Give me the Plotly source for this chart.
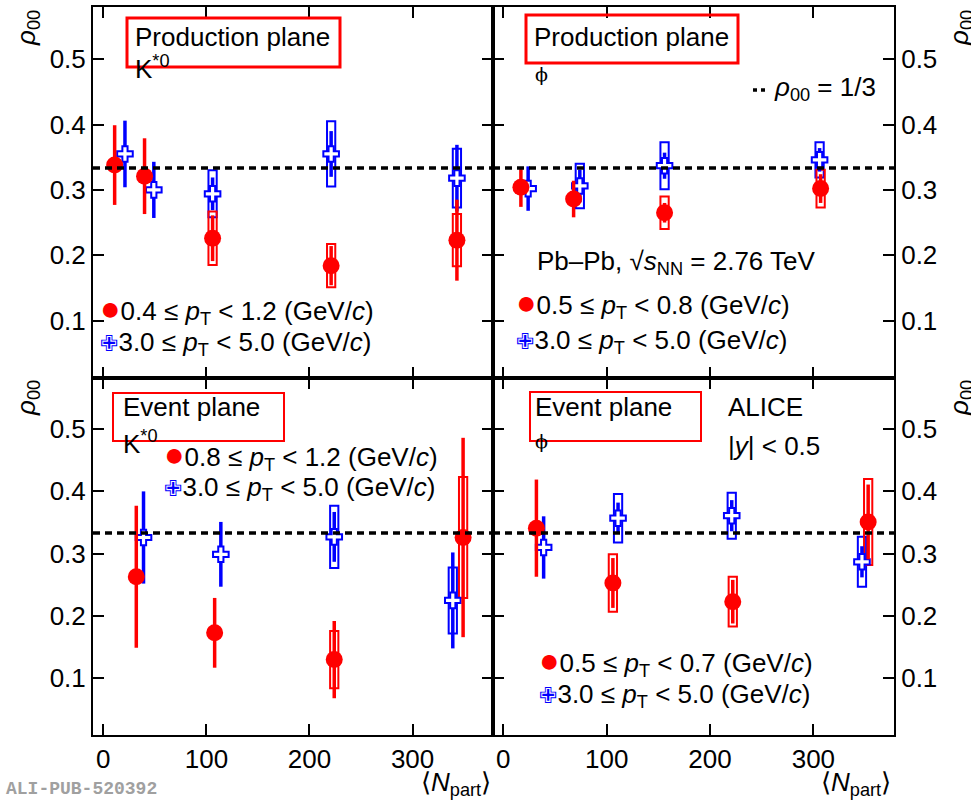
import plotly.graph_objects as go

W, H = 971, 800
RED = "#ff0000"
BLUE = "#0000ff"
FONT = "Liberation Sans, Arial, Helvetica, sans-serif"
FS = 26
REF_RHO = 1.0 / 3.0

# ---------------- data ----------------
# K*0, production plane
kpp_low_npart = [11, 40, 106, 221, 343]
kpp_low_rho = [0.338, 0.321, 0.226, 0.184, 0.223]
kpp_low_stat = [0.061, 0.058, 0.035, 0.030, 0.062]
kpp_low_syst = [None, None, 0.041, 0.033, 0.040]
kpp_high_npart = [21, 49, 106, 221, 343]
kpp_high_rho = [0.355, 0.300, 0.294, 0.355, 0.318]
kpp_high_stat = [0.051, 0.043, 0.025, 0.035, 0.051]
kpp_high_syst = [None, None, 0.036, 0.050, 0.045]

# phi, production plane
phipp_low_npart = [17, 68, 156, 307]
phipp_low_rho = [0.304, 0.286, 0.265, 0.302]
phipp_low_stat = [0.030, 0.028, 0.015, 0.022]
phipp_low_syst = [None, None, 0.025, 0.029]
phipp_high_npart = [24, 74, 156, 306]
phipp_high_rho = [0.302, 0.306, 0.337, 0.346]
phipp_high_stat = [0.034, 0.025, 0.020, 0.018]
phipp_high_syst = [None, 0.034, 0.036, 0.027]

# K*0, event plane
kep_low_npart = [32, 108, 224, 349]
kep_low_rho = [0.263, 0.173, 0.130, 0.326]
kep_low_stat = [0.114, 0.056, 0.062, 0.160]
kep_low_syst = [None, None, 0.046, 0.097]
kep_high_npart = [39, 114, 224, 339]
kep_high_rho = [0.326, 0.299, 0.327, 0.225]
kep_high_stat = [0.074, 0.052, 0.040, 0.077]
kep_high_syst = [None, None, 0.050, 0.053]

# phi, event plane
phiep_low_npart = [32, 106, 222, 353]
phiep_low_rho = [0.341, 0.253, 0.223, 0.351]
phiep_low_stat = [0.078, 0.040, 0.035, 0.060]
phiep_low_syst = [None, 0.046, 0.040, 0.069]
phiep_high_npart = [39, 111, 221, 347]
phiep_high_rho = [0.310, 0.357, 0.361, 0.287]
phiep_high_stat = [0.050, 0.025, 0.025, 0.025]
phiep_high_syst = [None, 0.039, 0.037, 0.040]

x_ticks = [0, 100, 200, 300]
x_tick_text = ["0", "100", "200", "300"]
y_ticks = [0.1, 0.2, 0.3, 0.4, 0.5]
y_tick_text = ["0.1", "0.2", "0.3", "0.4", "0.5"]

panels = [
    ("x", "y", (kpp_low_npart, kpp_low_rho, kpp_low_stat, kpp_low_syst),
     (kpp_high_npart, kpp_high_rho, kpp_high_stat, kpp_high_syst)),
    ("x2", "y2", (phipp_low_npart, phipp_low_rho, phipp_low_stat, phipp_low_syst),
     (phipp_high_npart, phipp_high_rho, phipp_high_stat, phipp_high_syst)),
    ("x3", "y3", (kep_low_npart, kep_low_rho, kep_low_stat, kep_low_syst),
     (kep_high_npart, kep_high_rho, kep_high_stat, kep_high_syst)),
    ("x4", "y4", (phiep_low_npart, phiep_low_rho, phiep_low_stat, phiep_low_syst),
     (phiep_high_npart, phiep_high_rho, phiep_high_stat, phiep_high_syst)),
]

fig = go.Figure()


def add_series(xa, ya, series, color, kind):
    n, rho, stat, syst = series
    bx = [a for a, s in zip(n, syst) if s is not None]
    bb = [r - s for r, s in zip(rho, syst) if s is not None]
    bh = [2 * s for s in syst if s is not None]
    if bx:
        fig.add_trace(go.Bar(
            x=bx, y=bh, base=bb, width=8, xaxis=xa, yaxis=ya,
            marker=dict(color="rgba(0,0,0,0)", line=dict(color=color, width=2)),
            showlegend=False, hoverinfo="skip"))
    if kind == "low":
        marker = dict(symbol="circle", size=17, color=color)
    else:
        marker = dict(symbol="cross", size=13, color="white",
                      line=dict(color=color, width=2))
    fig.add_trace(go.Scatter(
        x=n, y=rho, mode="markers", xaxis=xa, yaxis=ya, marker=marker,
        error_y=dict(type="data", array=stat, color=color, thickness=3.5, width=0),
        showlegend=False))


for xa, ya, low, high in panels:
    add_series(xa, ya, high, BLUE, "high")
    add_series(xa, ya, low, RED, "low")

# ---------------- layout ----------------
def px(x, y):
    return x / W, 1 - y / H

xl0, xl1, xr1 = 93 / W, 493 / W, 894 / W
yt1, ymid, yb0 = 1 - 7 / H, 1 - 378 / H, 1 - 735 / H

axis_common = dict(showline=True, linecolor="black", linewidth=2, mirror="allticks",
                   ticks="inside", ticklen=11, tickwidth=2, tickcolor="black",
                   showgrid=False, zeroline=False, automargin=False,
                   tickfont=dict(family=FONT, size=FS, color="black"))

xr = [-10, 378]
layout_axes = {}
for i, (dom_x, dom_y, side, xlab, yr) in enumerate([
        ([xl0, xl1], [ymid, yt1], "left", False, [0.012, 0.58]),
        ([xl1, xr1], [ymid, yt1], "right", False, [0.012, 0.58]),
        ([xl0, xl1], [yb0, ymid], "left", True, [0.009, 0.582]),
        ([xl1, xr1], [yb0, ymid], "right", True, [0.009, 0.582])]):
    k = "" if i == 0 else str(i + 1)
    layout_axes["xaxis" + k] = dict(axis_common, domain=dom_x, range=xr,
                                    anchor="y" + k, tickvals=x_ticks,
                                    ticktext=x_tick_text, showticklabels=xlab)
    layout_axes["yaxis" + k] = dict(axis_common, domain=dom_y, range=yr,
                                    anchor="x" + k, side=side, tickvals=y_ticks,
                                    ticktext=y_tick_text)

shapes = []
for i in range(4):
    k = "" if i == 0 else str(i + 1)
    shapes.append(dict(type="line", xref="x" + k + " domain", yref="y" + k,
                       x0=0, x1=1, y0=REF_RHO, y1=REF_RHO,
                       line=dict(color="black", width=3.5, dash="7px,5px")))


def box(x0, y0, x1, y1, w):
    a, b = px(x0, y0)
    c, d = px(x1, y1)
    shapes.append(dict(type="rect", xref="paper", yref="paper", x0=a, x1=c, y0=d, y1=b,
                       line=dict(color=RED, width=w)))


box(127, 18, 340, 67, 3)
box(526, 15, 738, 63, 3)
box(113, 393, 284, 441, 2)
box(530, 392, 701, 441, 2)

# legend dotted line sample
a, b = px(753, 90)
c, _ = px(769, 90)
shapes.append(dict(type="line", xref="paper", yref="paper", x0=a, x1=c, y0=b, y1=b,
                   line=dict(color="black", width=3.5, dash="4px,4px")))

annotations = []


def text(x, y, s, size=FS, xanchor="left", angle=0, color="black", family=FONT):
    a, b = px(x, y)
    annotations.append(dict(x=a, y=b, xref="paper", yref="paper", text=s,
                            showarrow=False, xanchor=xanchor, yanchor="middle",
                            textangle=angle,
                            font=dict(family=family, size=size, color=color)))


DOT = "<span style='color:#ff0000;font-size:34px'>●</span>"
CROSS = "<span style='color:#0000ff;font-family:DejaVu Sans;font-size:22px'>✙</span>"
PT = "<i>p</i><sub>T</sub>"
PHI = "ϕ"

text(133, 37, "Production plane")
text(133, 67, "K<sup>*0</sup>")
text(532, 37, "Production plane")
text(533, 74, PHI, size=19, family="DejaVu Serif, serif")
text(772, 89, "<i>ρ</i><sub>00</sub> = 1/3")
text(535, 262, "Pb–Pb, √<i>s</i><sub>NN</sub> = 2.76 TeV")
text(514, 303, DOT + "0.5 ≤ " + PT + " < 0.8 (GeV/<i>c</i>)")
text(514, 341, CROSS + "3.0 ≤ " + PT + " < 5.0 (GeV/<i>c</i>)")
text(98, 309, DOT + "0.4 ≤ " + PT + " < 1.2 (GeV/<i>c</i>)")
text(98, 343, CROSS + "3.0 ≤ " + PT + " < 5.0 (GeV/<i>c</i>)")

text(121, 407, "Event plane")
text(121, 442, "K<sup>*0</sup>")
text(162, 455, DOT + "0.8 ≤ " + PT + " < 1.2 (GeV/<i>c</i>)")
text(162, 488, CROSS + "3.0 ≤ " + PT + " < 5.0 (GeV/<i>c</i>)")

text(533, 407, "Event plane")
text(533, 441, PHI, size=19, family="DejaVu Serif, serif")
text(726, 407, "ALICE")
text(726, 446, "|<i>y</i>| < 0.5")
text(537, 661, DOT + "0.5 ≤ " + PT + " < 0.7 (GeV/<i>c</i>)")
text(537, 695, CROSS + "3.0 ≤ " + PT + " < 5.0 (GeV/<i>c</i>)")

for (x, y) in [(27, 28), (27, 398), (960, 28), (960, 398)]:
    text(x, y, "<i>ρ</i><sub>00</sub>", xanchor="center", angle=-90)

text(493, 783, "⟨<i>N</i><sub>part</sub>⟩", xanchor="right")
text(893, 783, "⟨<i>N</i><sub>part</sub>⟩", xanchor="right")
text(4, 789, "<b>ALI-PUB-520392</b>", size=18, color="#a0a0a0",
     family="Liberation Mono, DejaVu Sans Mono, monospace")

fig.update_layout(
    width=W, height=H, margin=dict(l=0, r=0, t=0, b=0),
    paper_bgcolor="white", plot_bgcolor="white",
    barmode="overlay", showlegend=False,
    font=dict(family=FONT, size=FS, color="black"),
    shapes=shapes, annotations=annotations,
    **layout_axes)

fig.write_html("out.html",
               config={"displayModeBar": False},
               post_script="document.body.style.margin='0px';"
                           "document.body.style.overflow='hidden';")
